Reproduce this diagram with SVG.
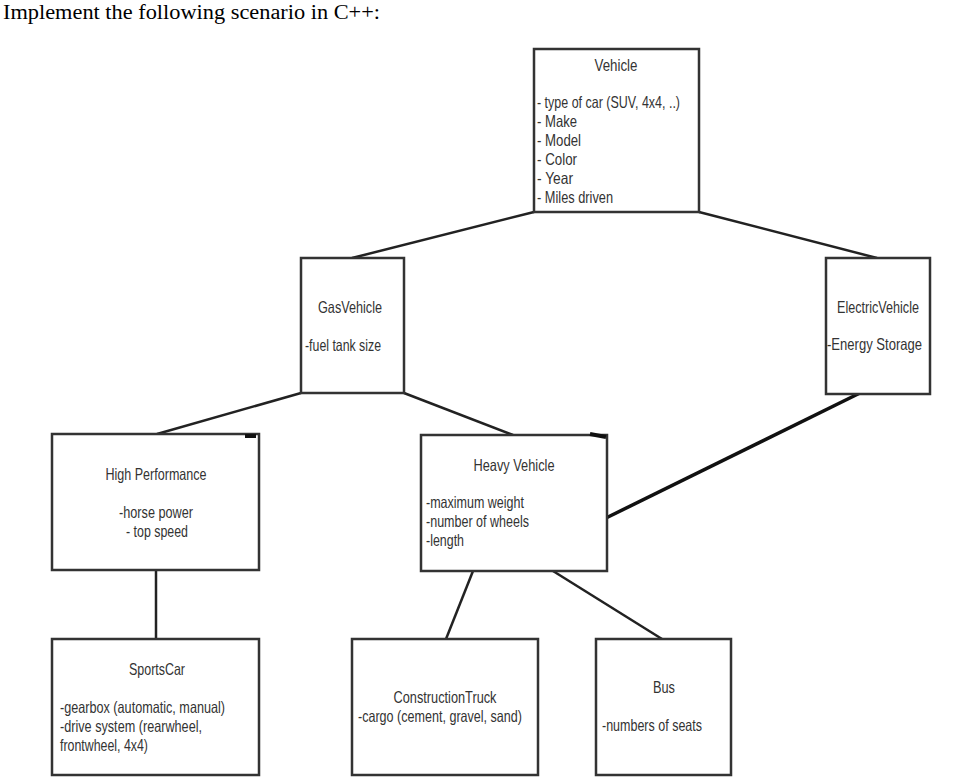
<svg xmlns="http://www.w3.org/2000/svg" width="962" height="783" viewBox="0 0 962 783">
<style>
.box{fill:#fff;stroke:#333;stroke-width:2.5}
.t{font-family:"Liberation Sans Narrow","Liberation Sans",Arial,sans-serif;font-size:16.5px;fill:#333}
.c{text-anchor:middle}
.ln{stroke:#222;stroke-width:2.5;fill:none}
.thick{stroke:#111;stroke-width:3.5;fill:none}
.tick{stroke:#111;stroke-width:4;fill:none}
.h{font-family:"Liberation Serif","Times New Roman",serif;font-size:20px;fill:#000}
</style>
<rect width="962" height="783" fill="#fff"/>
<text class="h" x="3" y="19" textLength="377" lengthAdjust="spacingAndGlyphs">Implement the following scenario in C++:</text>
<g id="connectors">
<line class="ln" x1="534" y1="212" x2="352" y2="258"/>
<line class="ln" x1="699" y1="212" x2="877" y2="258"/>
<line class="ln" x1="301" y1="393" x2="157" y2="434"/>
<line class="ln" x1="404" y1="393" x2="513" y2="435"/>
<line class="thick" x1="860" y1="393" x2="606" y2="518"/>
<line class="ln" x1="156" y1="570" x2="156" y2="639"/>
<line class="ln" x1="473" y1="571" x2="446" y2="639"/>
<line class="ln" x1="553" y1="571" x2="662" y2="639"/>
</g>
<g id="vehicle">
<rect class="box" x="534" y="49" width="165" height="163"/>
<text class="t c" x="616" y="71" textLength="43" lengthAdjust="spacingAndGlyphs">Vehicle</text>
<text class="t" x="537" y="108" textLength="143" lengthAdjust="spacingAndGlyphs">- type of car (SUV, 4x4, ..)</text>
<text class="t" x="537" y="127" textLength="40" lengthAdjust="spacingAndGlyphs">- Make</text>
<text class="t" x="537" y="146" textLength="44" lengthAdjust="spacingAndGlyphs">- Model</text>
<text class="t" x="537" y="165" textLength="40" lengthAdjust="spacingAndGlyphs">- Color</text>
<text class="t" x="537" y="184" textLength="36" lengthAdjust="spacingAndGlyphs">- Year</text>
<text class="t" x="537" y="203" textLength="76" lengthAdjust="spacingAndGlyphs">- Miles driven</text>
</g>
<g id="gasvehicle">
<rect class="box" x="301" y="258" width="103" height="135"/>
<text class="t c" x="350" y="313" textLength="64" lengthAdjust="spacingAndGlyphs">GasVehicle</text>
<text class="t" x="305" y="351" textLength="76" lengthAdjust="spacingAndGlyphs">-fuel tank size</text>
</g>
<g id="electricvehicle">
<rect class="box" x="826" y="258" width="104" height="136"/>
<text class="t c" x="878" y="313" textLength="82" lengthAdjust="spacingAndGlyphs">ElectricVehicle</text>
<text class="t" x="827" y="350" textLength="95" lengthAdjust="spacingAndGlyphs">-Energy Storage</text>
</g>
<g id="highperformance">
<rect class="box" x="52" y="434" width="207" height="136"/>
<text class="t c" x="156" y="480" textLength="101" lengthAdjust="spacingAndGlyphs">High Performance</text>
<text class="t c" x="156" y="518" textLength="74" lengthAdjust="spacingAndGlyphs">-horse power</text>
<text class="t c" x="157" y="537" textLength="62" lengthAdjust="spacingAndGlyphs">- top speed</text>
</g>
<g id="heavyvehicle">
<rect class="box" x="421" y="435" width="186" height="136"/>
<text class="t c" x="514" y="471" textLength="81" lengthAdjust="spacingAndGlyphs">Heavy Vehicle</text>
<text class="t" x="426" y="508" textLength="98" lengthAdjust="spacingAndGlyphs">-maximum weight</text>
<text class="t" x="426" y="527" textLength="103" lengthAdjust="spacingAndGlyphs">-number of wheels</text>
<text class="t" x="426" y="546" textLength="38" lengthAdjust="spacingAndGlyphs">-length</text>
</g>
<g id="sportscar">
<rect class="box" x="52" y="639" width="207" height="136"/>
<text class="t c" x="157" y="675" textLength="56" lengthAdjust="spacingAndGlyphs">SportsCar</text>
<text class="t" x="60" y="713" textLength="165" lengthAdjust="spacingAndGlyphs">-gearbox (automatic, manual)</text>
<text class="t" x="60" y="732" textLength="142" lengthAdjust="spacingAndGlyphs">-drive system (rearwheel,</text>
<text class="t" x="60" y="751" textLength="88" lengthAdjust="spacingAndGlyphs">frontwheel, 4x4)</text>
</g>
<g id="constructiontruck">
<rect class="box" x="352" y="639" width="186" height="136"/>
<text class="t c" x="445" y="703" textLength="103" lengthAdjust="spacingAndGlyphs">ConstructionTruck</text>
<text class="t" x="358" y="722" textLength="164" lengthAdjust="spacingAndGlyphs">-cargo (cement, gravel, sand)</text>
</g>
<g id="bus">
<rect class="box" x="596" y="639" width="135" height="136"/>
<text class="t c" x="664" y="693" textLength="22" lengthAdjust="spacingAndGlyphs">Bus</text>
<text class="t" x="602" y="731" textLength="100" lengthAdjust="spacingAndGlyphs">-numbers of seats</text>
</g>
<g id="marks">
<line class="tick" x1="245" y1="436" x2="256" y2="436"/>
<line class="tick" x1="590" y1="434" x2="606" y2="437"/>
</g>
</svg>
